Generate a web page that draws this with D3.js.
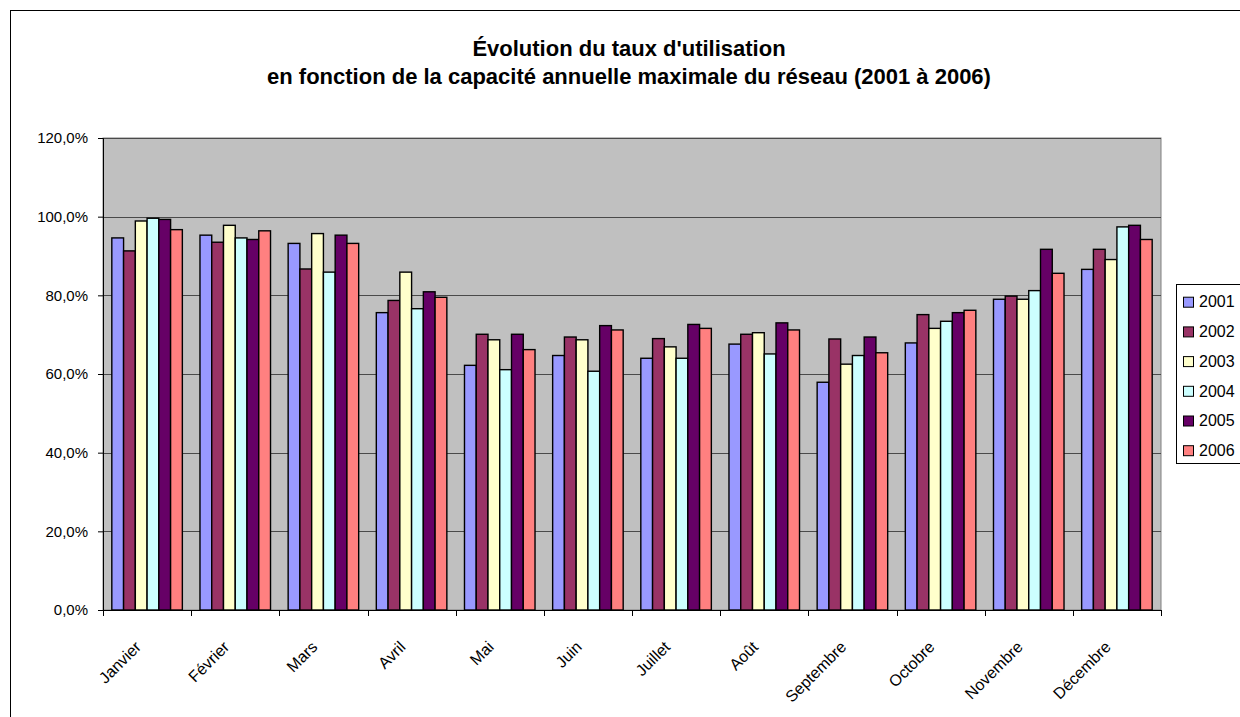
<!DOCTYPE html>
<html>
<head>
<meta charset="utf-8">
<script src="https://cdn.jsdelivr.net/npm/d3@7"></script>
<style>
  body { margin: 0; background: #fff; }
  svg text { font-family: Arial, "Liberation Sans", sans-serif; fill: #000; }
</style>
</head>
<body>
<div id="chart"></div>
<script>
// data
const months = ["Janvier", "Février", "Mars", "Avril", "Mai", "Juin", "Juillet", "Août", "Septembre", "Octobre", "Novembre", "Décembre"];
const years = ["2001", "2002", "2003", "2004", "2005", "2006"];
const v2001 = [94.6, 95.3, 93.2, 75.6, 62.2, 64.7, 64.0, 67.6, 57.9, 67.9, 79.0, 86.6];
const v2002 = [91.3, 93.5, 86.7, 78.7, 70.1, 69.4, 69.0, 70.1, 68.9, 75.1, 79.8, 91.7];
const v2003 = [98.9, 97.8, 95.7, 85.9, 68.7, 68.7, 66.9, 70.5, 62.5, 71.6, 79.0, 89.1];
const v2004 = [99.6, 94.6, 85.9, 76.6, 61.1, 60.7, 64.0, 65.1, 64.7, 73.4, 81.2, 97.4];
const v2005 = [99.3, 94.2, 95.3, 80.9, 70.1, 72.3, 72.6, 73.0, 69.4, 75.6, 91.7, 97.8];
const v2006 = [96.7, 96.4, 93.2, 79.5, 66.2, 71.2, 71.6, 71.2, 65.4, 76.2, 85.6, 94.2];
const yTicks = [0, 20, 40, 60, 80, 100, 120];
const colors = ["#9999FF", "#993366", "#FFFFCC", "#CCFFFF", "#660066", "#FF8080"];

const series = [v2001, v2002, v2003, v2004, v2005, v2006];

const W = 1240, H = 717;
const plot = { left: 103, right: 1161, top: 138, bottom: 610 };

const svg = d3.select("#chart").append("svg")
    .attr("width", W)
    .attr("height", H);

svg.append("rect")
    .attr("width", W).attr("height", H)
    .attr("fill", "#fff");

// chart frame (runs off the right and bottom edges)
svg.append("rect")
    .attr("x", 10.5).attr("y", 10.5)
    .attr("width", W).attr("height", H)
    .attr("fill", "none")
    .attr("stroke", "#000");

// title
const title = svg.append("text")
    .attr("text-anchor", "middle")
    .style("font-weight", "bold")
    .style("font-size", "22px");
title.append("tspan").attr("x", 629).attr("y", 56).text("Évolution du taux d'utilisation");
title.append("tspan").attr("x", 629).attr("y", 84).text("en fonction de la capacité annuelle maximale du réseau (2001 à 2006)");

// Excel-like gap: 6 bars + 1.5 bar widths of gap per category
const x0 = d3.scaleBand()
    .domain(months)
    .range([plot.left, plot.right]);
const step = x0.step();
const barW = step / 7.5;
const x1 = d3.scaleBand()
    .domain(years)
    .range([0, barW * 6]);

const y = d3.scaleLinear()
    .domain([0, 120])
    .range([plot.bottom, plot.top]);

// plot area
svg.append("rect")
    .attr("x", plot.left).attr("y", plot.top)
    .attr("width", plot.right - plot.left)
    .attr("height", plot.bottom - plot.top)
    .attr("fill", "#C0C0C0")
    .attr("stroke", "#808080");

// gridlines
svg.append("g")
    .selectAll("line")
    .data(yTicks.filter(d => d > 0))
    .join("line")
    .attr("x1", plot.left).attr("x2", plot.right)
    .attr("y1", d => Math.round(y(d)) + 0.5)
    .attr("y2", d => Math.round(y(d)) + 0.5)
    .attr("stroke", "#4a4a4a")
    .attr("stroke-width", 1.2);

// bars
const groups = svg.append("g")
    .selectAll("g")
    .data(months)
    .join("g")
    .attr("transform", d => `translate(${x0(d) + barW * 0.75},0)`);

groups.selectAll("rect")
    .data((m, i) => years.map((yr, j) => ({ yr, v: series[j][i], c: colors[j] })))
    .join("rect")
    .attr("x", d => x1(d.yr))
    .attr("y", d => y(d.v))
    .attr("width", x1.bandwidth())
    .attr("height", d => y(0) - y(d.v))
    .attr("fill", d => d.c)
    .attr("stroke", "#000")
    .attr("stroke-width", 1.4);

// y axis
const yAxis = d3.axisLeft(y)
    .tickValues(yTicks)
    .tickSize(5)
    .tickFormat(d => d3.format(".1f")(d).replace(".", ",") + "%");
const gy = svg.append("g")
    .attr("transform", `translate(${plot.left},0)`)
    .call(yAxis);
gy.select(".domain").attr("stroke", "#000");
gy.selectAll(".tick line").attr("stroke", "#000");
gy.selectAll(".tick text")
    .attr("x", -15)
    .style("font-size", "15px")
    .style("font-family", "Arial, 'Liberation Sans', sans-serif");

// x axis: ticks at category boundaries
const boundaries = months.map(m => x0(m)).concat([plot.right]);
svg.append("line")
    .attr("x1", plot.left).attr("x2", plot.right)
    .attr("y1", plot.bottom + 0.5).attr("y2", plot.bottom + 0.5)
    .attr("stroke", "#000");
svg.append("g")
    .selectAll("line")
    .data(boundaries)
    .join("line")
    .attr("x1", d => Math.round(d) + 0.5).attr("x2", d => Math.round(d) + 0.5)
    .attr("y1", plot.bottom).attr("y2", plot.bottom + 6)
    .attr("stroke", "#000");

svg.append("g")
    .selectAll("text")
    .data(months)
    .join("text")
    .attr("transform", d => `translate(${x0(d) + step / 2 - 5},${plot.bottom + 38}) rotate(-45)`)
    .attr("text-anchor", "end")
    .style("font-size", "16px")
    .text(d => d);

// legend
const legend = svg.append("g").attr("transform", "translate(1176,284)");
legend.append("rect")
    .attr("x", 0.5).attr("y", 0.5)
    .attr("width", 80).attr("height", 179)
    .attr("fill", "#fff")
    .attr("stroke", "#000");
const items = legend.selectAll("g")
    .data(years)
    .join("g")
    .attr("transform", (d, i) => `translate(0,${17.7 + i * 29.7})`);
items.append("rect")
    .attr("x", 7.5).attr("y", -4.5)
    .attr("width", 10).attr("height", 10)
    .attr("fill", (d, i) => colors[i])
    .attr("stroke", "#000");
items.append("text")
    .attr("x", 23)
    .attr("dy", "0.36em")
    .style("font-size", "16px")
    .text(d => d);
</script>
</body>
</html>
